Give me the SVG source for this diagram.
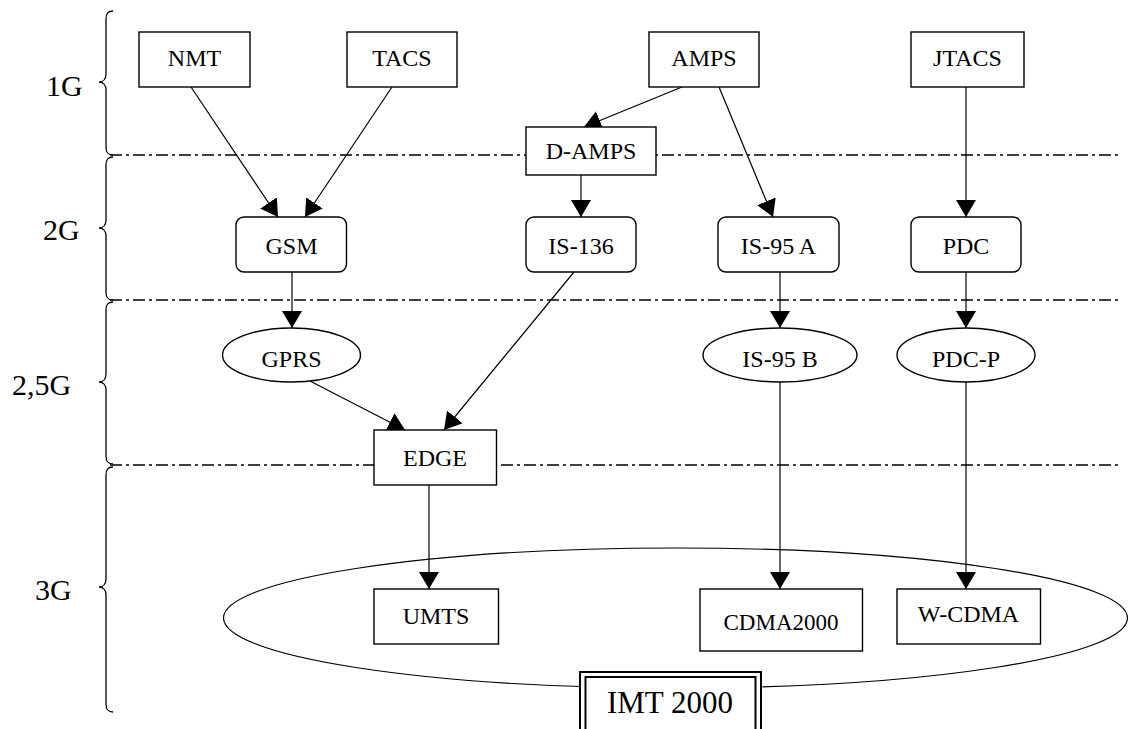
<svg xmlns="http://www.w3.org/2000/svg" width="1129" height="729" viewBox="0 0 1129 729">
<style>
.bx{fill:#fff;stroke:#000;stroke-width:1.4}
.t{font-family:"Liberation Serif","Times New Roman",serif;font-size:24px;text-anchor:middle;fill:#000}
.lb{font-family:"Liberation Serif","Times New Roman",serif;font-size:30px;fill:#000}
.dash{fill:none;stroke:#000;stroke-width:1.5;stroke-dasharray:12 4 3 4}
.br{fill:none;stroke:#000;stroke-width:1.3}
.e{fill:none;stroke:#000;stroke-width:1.2;marker-end:url(#ah)}
</style>
<defs>
<marker id="ah" viewBox="0 0 17 20" refX="17" refY="10" markerWidth="17" markerHeight="20" markerUnits="userSpaceOnUse" orient="auto">
<path d="M0,0 L17,10 L0,20 z" fill="#000"/>
</marker>
</defs>
<rect width="1129" height="729" fill="#fff"/>
<g id="generations">
<line class="dash" x1="110" y1="155" x2="1120" y2="155"/>
<line class="dash" x1="110" y1="300" x2="1120" y2="300"/>
<line class="dash" x1="110" y1="465" x2="1120" y2="465"/>
<path class="br" d="M113,11 C108,11 106,13 106,19 L106,74 C106,79 103,82 99,82 C103,82 106,85 106,90 L106,147 C106,153 108,155 113,155"/>
<path class="br" d="M113,157 C108,157 106,159 106,165 L106,220 C106,225 103,228 99,228 C103,228 106,231 106,236 L106,292 C106,298 108,300 113,300"/>
<path class="br" d="M113,302 C108,302 106,304 106,310 L106,374 C106,379 103,382 99,382 C103,382 106,385 106,390 L106,456 C106,462 108,464 113,464"/>
<path class="br" d="M113,467 C108,467 106,469 106,475 L106,579 C106,584 103,587 99,587 C103,587 106,590 106,595 L106,704 C106,710 108,712 113,712"/>
<text class="lb" x="46" y="96">1G</text>
<text class="lb" x="43" y="240">2G</text>
<text class="lb" x="12" y="395">2,5G</text>
<text class="lb" x="35" y="600">3G</text>
</g>
<g id="imt-ellipse">
<ellipse cx="675.5" cy="618" rx="452" ry="70" fill="none" stroke="#000" stroke-width="1.2"/>
</g>
<g id="connectors">
<line class="e" x1="191" y1="87" x2="278" y2="217"/>
<line class="e" x1="392" y1="87" x2="305" y2="217"/>
<line class="e" x1="682" y1="87" x2="584" y2="127"/>
<line class="e" x1="719" y1="87" x2="773" y2="217"/>
<line class="e" x1="966" y1="87" x2="966" y2="217"/>
<line class="e" x1="581" y1="175" x2="581" y2="217"/>
<line class="e" x1="292" y1="272" x2="292" y2="328"/>
<line class="e" x1="574" y1="272" x2="444" y2="430"/>
<line class="e" x1="780" y1="272" x2="780" y2="328"/>
<line class="e" x1="966" y1="272" x2="966" y2="328"/>
<line class="e" x1="310" y1="381" x2="405" y2="430"/>
<line class="e" x1="429" y1="485" x2="429" y2="589"/>
<line class="e" x1="780" y1="382" x2="780" y2="589"/>
<line class="e" x1="966" y1="382" x2="966" y2="589"/>
</g>
<g id="NMT"><rect class="bx" x="139" y="32" width="111" height="55"/><text class="t" x="194.5" y="66">NMT</text></g>
<g id="TACS"><rect class="bx" x="347" y="32" width="110" height="55"/><text class="t" x="402" y="66">TACS</text></g>
<g id="AMPS"><rect class="bx" x="649" y="32" width="110" height="55"/><text class="t" x="704" y="66">AMPS</text></g>
<g id="JTACS"><rect class="bx" x="911" y="32" width="113" height="55"/><text class="t" x="967.5" y="66">JTACS</text></g>
<g id="D-AMPS"><rect class="bx" x="526" y="127" width="130" height="48"/><text class="t" x="591" y="159">D-AMPS</text></g>
<g id="GSM"><rect class="bx" x="236" y="217" width="110.5" height="55" rx="8"/><text class="t" x="291.5" y="254">GSM</text></g>
<g id="IS-136"><rect class="bx" x="526" y="217" width="110" height="55" rx="8"/><text class="t" x="581" y="254">IS-136</text></g>
<g id="IS-95A"><rect class="bx" x="718" y="217" width="121" height="55" rx="8"/><text class="t" x="778.5" y="254">IS-95 A</text></g>
<g id="PDC"><rect class="bx" x="911" y="217" width="110" height="55" rx="8"/><text class="t" x="966" y="254">PDC</text></g>
<g id="GPRS"><ellipse class="bx" cx="291.5" cy="355" rx="69" ry="27"/><text class="t" x="291.5" y="367">GPRS</text></g>
<g id="IS-95B"><ellipse class="bx" cx="780" cy="355" rx="77" ry="27"/><text class="t" x="780" y="367">IS-95 B</text></g>
<g id="PDC-P"><ellipse class="bx" cx="966" cy="355" rx="69" ry="27"/><text class="t" x="966" y="367">PDC-P</text></g>
<g id="EDGE"><rect class="bx" x="374" y="430" width="122.5" height="55"/><text class="t" x="435" y="466">EDGE</text></g>
<g id="UMTS"><rect class="bx" x="374" y="589" width="124.5" height="55"/><text class="t" x="436" y="624">UMTS</text></g>
<g id="CDMA2000"><rect class="bx" x="700" y="589" width="162.5" height="62"/><text class="t" x="781" y="630" style="font-size:23px">CDMA2000</text></g>
<g id="W-CDMA"><rect class="bx" x="897" y="589" width="143.5" height="55"/><text class="t" x="968.5" y="622">W-CDMA</text></g>
<g id="IMT2000">
<rect x="580" y="672" width="181" height="70" fill="#fff" stroke="#000" stroke-width="2"/>
<rect x="585.5" y="677" width="170" height="60" fill="none" stroke="#000" stroke-width="2"/>
<text class="t" x="670" y="713" style="font-size:31px">IMT 2000</text>
</g>
</svg>
